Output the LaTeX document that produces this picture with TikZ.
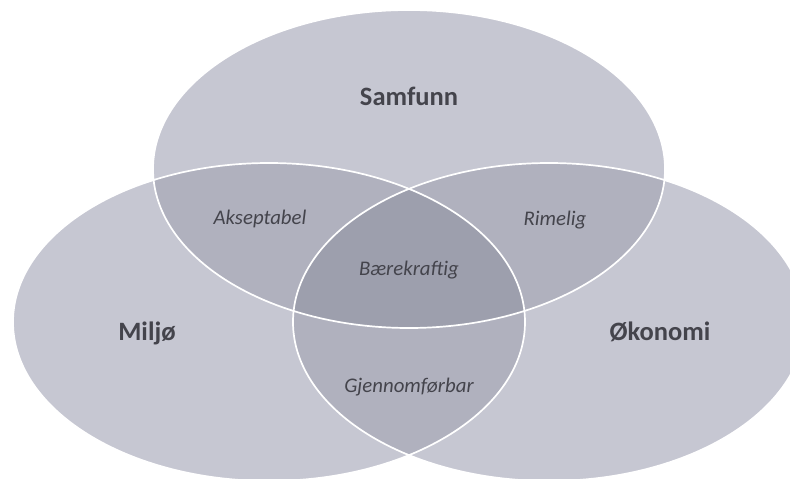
\documentclass[tikz,border=0pt]{standalone}
\usepackage{fontspec}
\setmainfont{Carlito}
\definecolor{basefill}{RGB}{198,199,210}
\definecolor{dblfill}{RGB}{176,177,190}
\definecolor{trifill}{RGB}{157,159,173}
\definecolor{txtcol}{RGB}{68,68,76}
\begin{document}
\begin{tikzpicture}[x=1pt,y=-1pt,
  biglabel/.style={font=\fontsize{26.5}{30}\selectfont\bfseries, text=txtcol, anchor=base, inner sep=0pt},
  smalllabel/.style={font=\fontsize{20.8}{24}\selectfont\itshape, text=txtcol, anchor=base, inner sep=0pt},
  outline/.style={draw=white, line width=1.7pt}]
\useasboundingbox (0,0) rectangle (790,479);
\clip (0,0) rectangle (790,479);
% base ellipses
\fill[basefill] (409,169) ellipse [x radius=256pt, y radius=159pt];
\fill[basefill] (269,322) ellipse [x radius=256pt, y radius=159pt];
\fill[basefill] (549,322) ellipse [x radius=256pt, y radius=159pt];
% pairwise overlaps
\begin{scope}
  \clip (409,169) ellipse [x radius=256pt, y radius=159pt];
  \fill[dblfill] (269,322) ellipse [x radius=256pt, y radius=159pt];
  \fill[dblfill] (549,322) ellipse [x radius=256pt, y radius=159pt];
\end{scope}
\begin{scope}
  \clip (269,322) ellipse [x radius=256pt, y radius=159pt];
  \fill[dblfill] (549,322) ellipse [x radius=256pt, y radius=159pt];
\end{scope}
% triple overlap
\begin{scope}
  \clip (409,169) ellipse [x radius=256pt, y radius=159pt];
  \clip (269,322) ellipse [x radius=256pt, y radius=159pt];
  \fill[trifill] (549,322) ellipse [x radius=256pt, y radius=159pt];
\end{scope}
% outlines
\draw[outline] (409,169) ellipse [x radius=256pt, y radius=159pt];
\draw[outline] (269,322) ellipse [x radius=256pt, y radius=159pt];
\draw[outline] (549,322) ellipse [x radius=256pt, y radius=159pt];
% labels
\node[biglabel] (samfunn) at (409,105) {Samfunn};
\node[biglabel] (miljo) at (147,340) {Miljø};
\node[biglabel] (okonomi) at (660,340) {Økonomi};
\node[smalllabel] (akseptabel) at (260,224) {Akseptabel};
\node[smalllabel] (rimelig) at (555,225) {Rimelig};
\node[smalllabel] (baerekraftig) at (409,275) {Bærekraftig};
\node[smalllabel] (gjennomforbar) at (409,392) {Gjennomførbar};
\end{tikzpicture}
\end{document}
